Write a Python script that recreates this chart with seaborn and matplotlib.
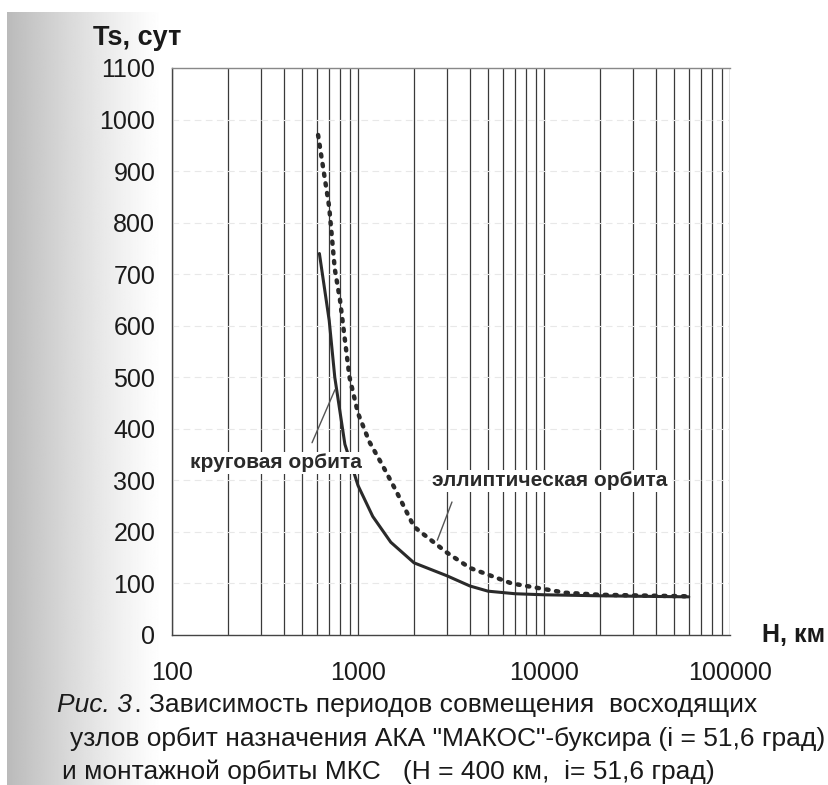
import numpy as np
import pandas as pd
import matplotlib
matplotlib.use("Agg")
import matplotlib.pyplot as plt
import matplotlib.ticker as mticker
import seaborn as sns

# ---- data ----
circ_H = [620, 700, 750, 850, 1000, 1200, 1500, 2000, 3000, 4000, 5000, 7000, 10000, 20000, 60000]
circ_T = [740, 610, 500, 370, 290, 230, 180, 140, 115, 95, 85, 80, 78, 76, 74]
ell_H = [610, 700, 750, 800, 900, 1000, 1150, 1350, 1600, 2000, 3000, 4000, 6700, 13000, 20000, 60000]
ell_T = [970, 830, 710, 650, 500, 430, 375, 330, 280, 210, 160, 130, 100, 82, 78, 75]
y_ticks = [0, 100, 200, 300, 400, 500, 600, 700, 800, 900, 1000, 1100]
x_ticks = [100, 1000, 10000, 100000]

df = pd.concat([
    pd.DataFrame({"H": circ_H, "T": circ_T, "s": "круговая орбита"}),
    pd.DataFrame({"H": ell_H, "T": ell_T, "s": "эллиптическая орбита"}),
])

sns.set_theme(style="white")
plt.rcParams['font.family'] = ['Liberation Sans', 'DejaVu Sans']

fig = plt.figure(figsize=(8.29, 7.85), dpi=100)

# scanned-paper shading on the left edge
bg = fig.add_axes([0.008, 0, 0.992, 0.985], zorder=-10)
xs = np.linspace(0, 1, 829)
shade = 1 - 0.27 * np.clip(1 - xs / 0.19, 0, 1) ** 1.2
bg.imshow(np.tile(shade, (10, 1)), cmap="gray", vmin=0, vmax=1, aspect="auto",
          extent=[0, 1, 0, 1])
bg.axis("off")

ax = fig.add_axes([0.2075, 0.1911, 0.6731, 0.7223])
ax.set_facecolor("white")

sns.lineplot(data=df[df.s == "круговая орбита"], x="H", y="T", ax=ax,
             color="#2a2a2a", lw=2.2, legend=False, estimator=None, sort=False)
sns.lineplot(data=df[df.s == "эллиптическая орбита"], x="H", y="T", ax=ax,
             color="#2a2a2a", lw=3.2, legend=False, estimator=None, sort=False,
             linestyle=(0, (0.5, 1.7)), solid_capstyle="round", dash_capstyle="round")

ax.set_xscale("log")
ax.set_xlim(100, 100000)
ax.set_ylim(0, 1100)
ax.set_yticks(y_ticks)
ax.set_xticks(x_ticks)
ax.xaxis.set_major_formatter(mticker.FuncFormatter(lambda v, p: f"{int(v)}"))
ax.xaxis.set_minor_locator(mticker.LogLocator(base=10, subs=np.arange(2, 10)))
ax.xaxis.set_minor_formatter(mticker.NullFormatter())
ax.grid(True, which="both", axis="x", color="#3a3a3a", lw=0.9)
ax.grid(True, which="major", axis="y", color="#e8e8e8", lw=0.8, ls=(0, (6, 4)))
ax.set_axisbelow(True)

for s in ["left", "bottom", "top"]:
    ax.spines[s].set_visible(True)
    ax.spines[s].set_color("#444444")
    ax.spines[s].set_linewidth(1.0)
ax.spines["right"].set_visible(False)
ax.spines["top"].set_color("#888888")

ax.tick_params(axis="y", which="major", direction="inout", length=12, width=1,
               color="#444444", labelsize=18, pad=6, labelcolor="#1a1a1a")
ax.tick_params(axis="x", which="major", direction="inout", length=10, width=1,
               color="#444444", labelsize=18, pad=14, labelcolor="#1a1a1a")
ax.tick_params(axis="x", which="minor", length=0)
ax.set_xlabel("")
ax.set_ylabel("")

fig.text(0.112, 0.952, "Ts, сут", fontsize=19.5, fontweight="bold", color="#1a1a1a",
         va="center", ha="left")
fig.text(0.919, 0.191, "Н, км", fontsize=18, fontweight="bold", color="#1a1a1a",
         va="center", ha="left")

ax.text(125, 334, "круговая орбита", transform=ax.transData, fontsize=15,
        fontweight="bold", color="#2a2a2a", va="center", ha="left",
        bbox=dict(facecolor="white", edgecolor="none", pad=1))
ax.plot([566, 752], [373, 476], color="#555555", lw=1)
ax.text(2500, 299, "эллиптическая орбита", transform=ax.transData, fontsize=15,
        fontweight="bold", color="#2a2a2a", va="center", ha="left",
        bbox=dict(facecolor="white", edgecolor="none", pad=1))
ax.plot([3200, 2670], [258, 184], color="#555555", lw=1)

cap_font = ['Liberation Sans Narrow', 'Liberation Sans', 'DejaVu Sans']
fig.text(0.069, 0.102, "Рис. 3", fontsize=19, style="italic", family=cap_font,
         color="#1a1a1a", va="center")
fig.text(0.153, 0.102, " . Зависимость периодов совмещения  восходящих",
         fontsize=19, family=cap_font, color="#1a1a1a", va="center")
fig.text(0.085, 0.058, "узлов орбит назначения АКА \"МАКОС\"-буксира (i = 51,6 град)",
         fontsize=19, family=cap_font, color="#1a1a1a", va="center")
fig.text(0.075, 0.017, "и монтажной орбиты МКС   (Н = 400 км,  i= 51,6 град)",
         fontsize=19, family=cap_font, color="#1a1a1a", va="center")

fig.savefig("out.png", dpi=100)
